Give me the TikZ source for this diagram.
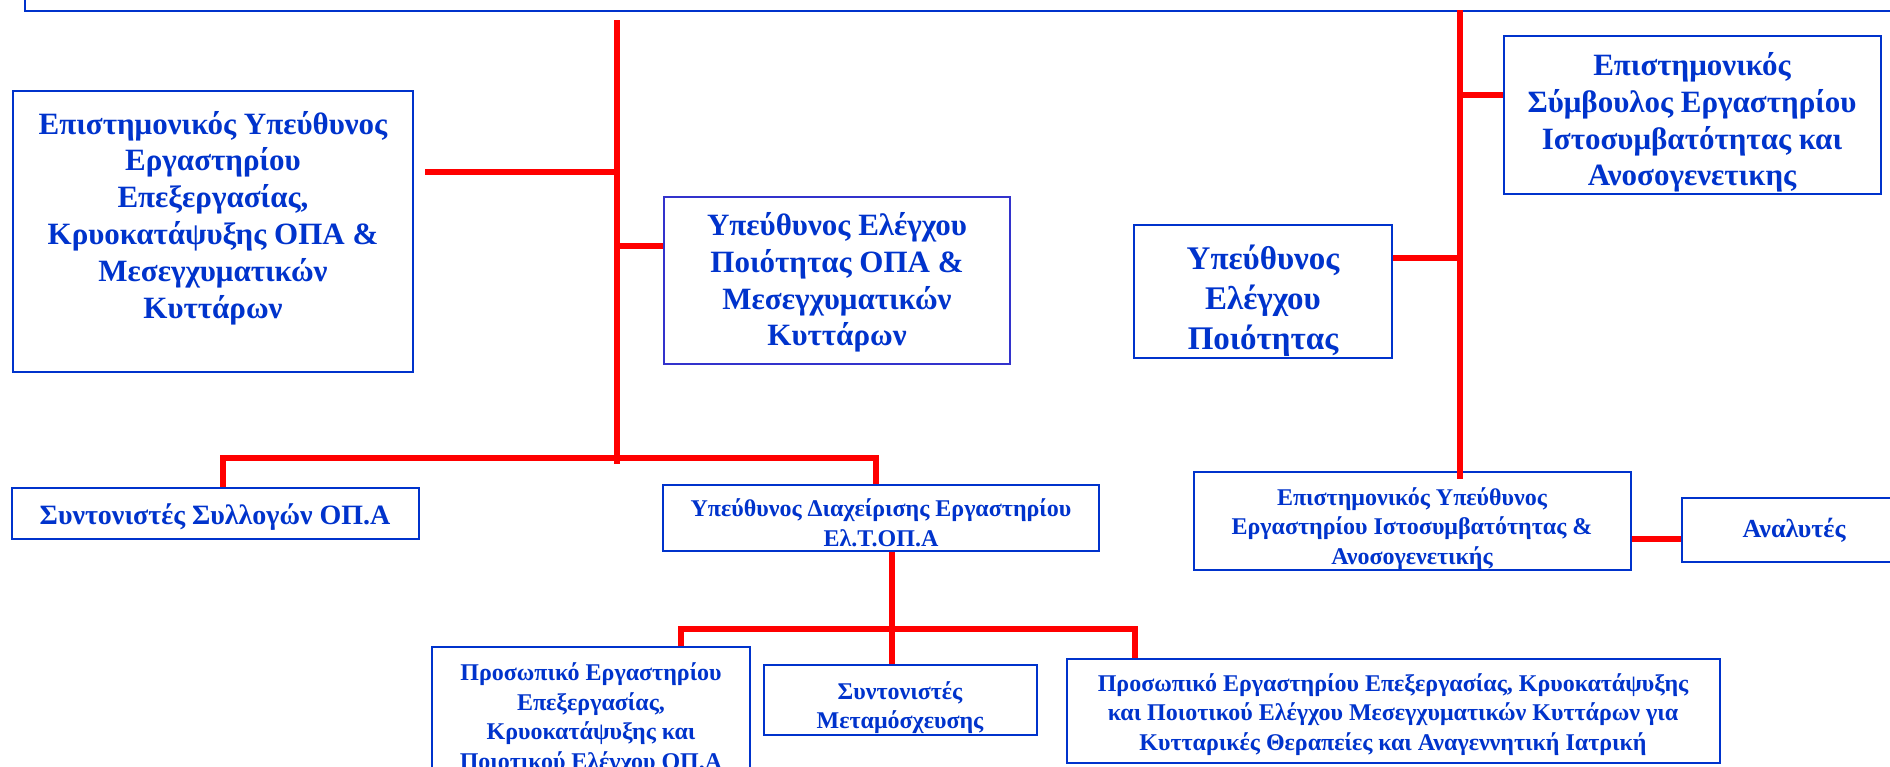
\documentclass[tikz,border=0pt]{standalone}
\usepackage{fontspec}
\setmainfont{Liberation Serif}
\definecolor{orgblue}{RGB}{0,51,204}
\definecolor{boxblue}{RGB}{51,51,204}
\definecolor{linkred}{RGB}{255,0,0}
\newcommand{\upstrut}[1]{\rule[-#1]{0pt}{#1}}
\newcommand{\dnstrut}[1]{\rule{0pt}{#1}}
\tikzset{
  post/.style={draw=orgblue, line width=2pt, text=orgblue, align=center, inner sep=0pt},
  bigtext/.style={font=\bfseries\fontsize{31}{36.8}\selectfont},
  smalltext/.style={font=\bfseries\fontsize{24}{29.5}\selectfont},
  link/.style={draw=linkred, line width=6pt},
}
\begin{document}
\begin{tikzpicture}[x=1pt,y=-1pt]
\useasboundingbox (0,0) rectangle (1890,766);
\clip (0,0) rectangle (1890,766);
\node[post, anchor=south west, minimum width=1900, minimum height=60] (top) at (24,12) {};
\node[post, bigtext, minimum width=400, minimum height=281] (sciopa) at (213,231) {Επιστημονικός Υπεύθυνος\\Εργαστηρίου\\Επεξεργασίας,\\Κρυοκατάψυξης ΟΠΑ \&\\Μεσεγχυματικών\\Κυττάρων\upstrut{33pt}};
\node[post, bigtext, draw=boxblue, minimum width=346, minimum height=167] (qcopa) at (837,280) {\dnstrut{28pt}Υπεύθυνος Ελέγχου\\Ποιότητας ΟΠΑ \&\\Μεσεγχυματικών\\Κυττάρων};
\node[post, font=\bfseries\fontsize{33}{40}\selectfont, minimum width=258, minimum height=133] (qchla) at (1263,291) {\dnstrut{44pt}Υπεύθυνος\\Ελέγχου\\Ποιότητας};
\node[post, bigtext, minimum width=377, minimum height=158] (advhla) at (1692,115) {\dnstrut{38pt}Επιστημονικός\\Σύμβουλος Εργαστηρίου\\Ιστοσυμβατότητας και\\Ανοσογενετικης};
\node[post, font=\bfseries\fontsize{28}{32}\selectfont, minimum width=407, minimum height=51] (coll) at (215,513) {\dnstrut{28pt}Συντονιστές Συλλογών ΟΠ.Α};
\node[post, smalltext, minimum width=436, minimum height=66] (mgr) at (881,518) {\dnstrut{27pt}Υπεύθυνος Διαχείρισης Εργαστηρίου\\Ελ.Τ.ΟΠ.Α};
\node[post, smalltext, minimum width=437, minimum height=96] (scihla) at (1412,521) {\dnstrut{33pt}Επιστημονικός Υπεύθυνος\\Εργαστηρίου Ιστοσυμβατότητας \&\\Ανοσογενετικής};
\node[post, font=\bfseries\fontsize{26}{30}\selectfont, minimum width=225, minimum height=64] (anal) at (1794,530) {Αναλυτές};
\node[post, smalltext, minimum width=318, minimum height=138] (staffopa) at (591,716) {\dnstrut{23pt}Προσωπικό Εργαστηρίου\\Επεξεργασίας,\\Κρυοκατάψυξης και\\Ποιοτικού Ελέγχου ΟΠ.Α};
\node[post, smalltext, minimum width=273, minimum height=70] (trans) at (900,700) {\dnstrut{33pt}Συντονιστές\\Μεταμόσχευσης};
\node[post, smalltext, minimum width=653, minimum height=104] (staffmsc) at (1393,711) {\dnstrut{25pt}Προσωπικό Εργαστηρίου Επεξεργασίας, Κρυοκατάψυξης\\και Ποιοτικού Ελέγχου Μεσεγχυματικών Κυττάρων για\\Κυτταρικές Θεραπείες και Αναγεννητική Ιατρική};
\coordinate (t1) at (617,20);
\coordinate (j1) at (617,464);
\coordinate (a1) at (617,172);
\coordinate (b1) at (617,246);
\coordinate (e1) at (223,458);
\coordinate (f1) at (876,458);
\coordinate (t2) at (1460,10);
\coordinate (d2) at (1460,95);
\coordinate (c2) at (1460,258);
\coordinate (j3) at (892,629);
\coordinate (i3) at (681,629);
\coordinate (k3) at (1135,629);
\path[link] (t1) -- (j1);
\path[link,shorten <=11] (a1 -| sciopa.east) -- (a1);
\path[link] (b1) -- (b1 -| qcopa.west);
\path[link] (e1 |- coll.north) -- (e1) -- (f1) -- (f1 |- mgr.north);
\path[link] (j3 |- mgr.south) -- (j3 |- trans.north);
\path[link] (i3 |- staffopa.north) -- (i3) -- (k3) -- (k3 |- staffmsc.north);
\path[link] (t2) -- ([yshift=-8]scihla.north -| t2);
\path[link] (d2) -- (d2 -| advhla.west);
\path[link] (qchla.east |- c2) -- (c2);
\path[link] ([yshift=-18]scihla.east) -- ([yshift=-18]scihla.east -| anal.west);
\end{tikzpicture}
\end{document}
